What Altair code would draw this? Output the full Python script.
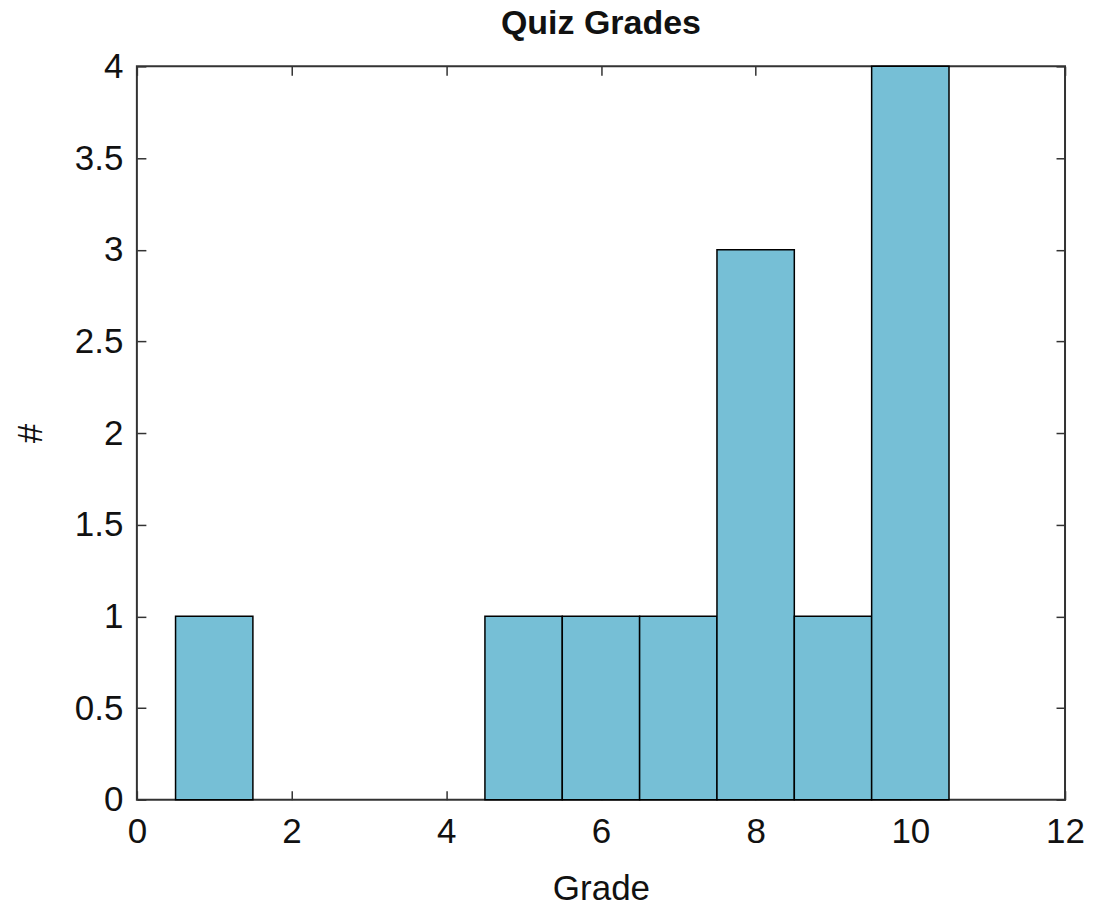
import altair as alt
import pandas as pd

grades = [1, 2, 3, 4, 5, 6, 7, 8, 9, 10]
counts = [1, 0, 0, 0, 1, 1, 1, 3, 1, 4]
x_ticks = [0, 2, 4, 6, 8, 10, 12]
y_ticks = [0, 0.5, 1, 1.5, 2, 2.5, 3, 3.5, 4]

df = pd.DataFrame({"grade": grades, "count": counts})
df = df[df["count"] > 0]
df["lo"] = df["grade"] - 0.5
df["hi"] = df["grade"] + 0.5

FONT = "Liberation Sans"
xs = alt.Scale(domain=[0, 12], nice=False, zero=False)
ys = alt.Scale(domain=[0, 4], nice=False)

common_ax = dict(grid=False, domain=False, tickSize=9, tickWidth=1.5, tickColor="#333",
                 offset=-9, labelFont=FONT, labelFontSize=35, labelColor="#111",
                 titleFont=FONT, titleFontSize=35, titleFontWeight="normal", titleColor="#111")

bars = alt.Chart(df).mark_bar(fill="#76bfd6", stroke="black", strokeWidth=1.5).encode(
    x=alt.X("lo:Q", scale=xs, axis=alt.Axis(orient="bottom", values=x_ticks, title="Grade",
                                            labelPadding=15, labelFlush=False, labelOverlap=False,
                                            titlePadding=22, **common_ax)),
    x2="hi:Q",
    y=alt.Y("count:Q", scale=ys, axis=alt.Axis(orient="left", values=y_ticks, title="#", format="~g",
                                               labelPadding=14, labelFlush=False, labelOverlap=False,
                                               titlePadding=26, **common_ax)),
    y2=alt.datum(0),
)

mirror_ax = dict(grid=False, domain=False, labels=False, title=None, tickSize=9, tickWidth=1.5,
                 tickColor="#333", offset=-9)

mirror = alt.Chart(df).mark_bar(opacity=0).encode(
    x=alt.X("lo:Q", scale=xs, axis=alt.Axis(orient="top", values=x_ticks, **mirror_ax)),
    x2="hi:Q",
    y=alt.Y("count:Q", scale=ys, axis=alt.Axis(orient="right", values=y_ticks, **mirror_ax)),
    y2=alt.datum(0),
)

chart = alt.layer(bars, mirror).resolve_axis(x="independent", y="independent").properties(
    width=929, height=734,
    title=alt.TitleParams("Quiz Grades", font=FONT, fontSize=34, fontWeight="bold",
                          color="#111", anchor="middle", offset=8),
    autosize=alt.AutoSizeParams(type="none"),
    padding={"left": 129, "top": 58, "right": 20, "bottom": 107},
    background="white",
).configure_view(stroke="#333", strokeWidth=2)

chart.save("out.html", embed_options={"renderer": "svg", "actions": False})
